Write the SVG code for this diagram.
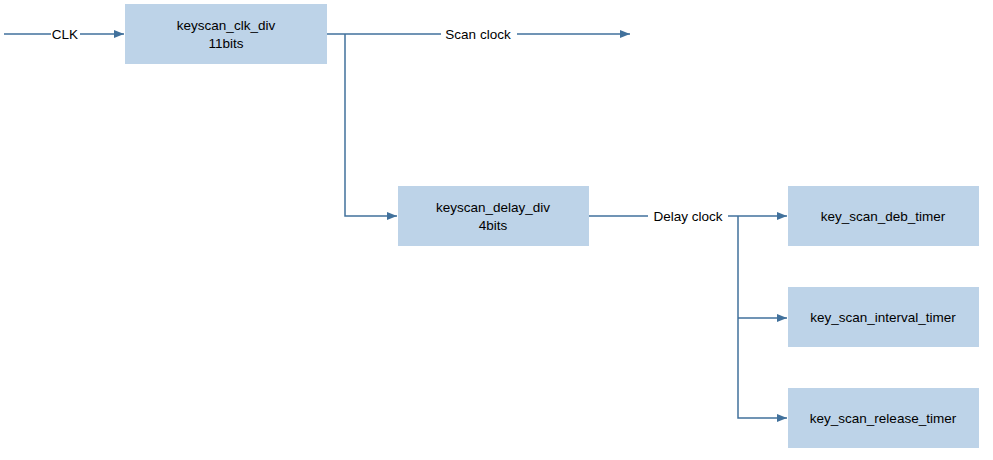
<svg xmlns="http://www.w3.org/2000/svg" width="993" height="460" viewBox="0 0 993 460">
<defs>
<marker id="a" markerWidth="10" markerHeight="8" refX="10" refY="4" orient="auto" markerUnits="userSpaceOnUse"><path d="M0,0 L10,4 L0,8 z" fill="#41719c"/></marker>
<style>
.b{fill:#bdd3e8}
.t{font-family:"Liberation Sans",Arial,sans-serif;font-size:13.5px;fill:#000;text-anchor:middle}
.c{stroke:#41719c;stroke-width:1.5;fill:none}
.lb{fill:#fff}
</style>
</defs>
<rect width="993" height="460" fill="#fff"/>
<g id="connectors">
<path class="c" d="M4,34 H124" marker-end="url(#a)"/>
<path class="c" d="M327,34 H630" marker-end="url(#a)"/>
<path class="c" d="M345,34 V216 H397" marker-end="url(#a)"/>
<path class="c" d="M589,216 H787" marker-end="url(#a)"/>
<path class="c" d="M738,216 V418 H787" marker-end="url(#a)"/>
<path class="c" d="M738,318 H787" marker-end="url(#a)"/>
<rect class="lb" x="51" y="26" width="29" height="16"/>
<text class="t" x="65" y="39">CLK</text>
<rect class="lb" x="441" y="26" width="76" height="16"/>
<text class="t" x="478" y="39">Scan clock</text>
<rect class="lb" x="648" y="208" width="80" height="16"/>
<text class="t" x="688" y="221">Delay clock</text>
</g>
<g id="clk_div"><rect class="b" x="125" y="4" width="202" height="60"/><text class="t" x="226" y="30">keyscan_clk_div</text><text class="t" x="226" y="48">11bits</text></g>
<g id="delay_div"><rect class="b" x="398" y="186" width="191" height="60"/><text class="t" x="493" y="212">keyscan_delay_div</text><text class="t" x="493" y="230">4bits</text></g>
<g id="deb"><rect class="b" x="788" y="186" width="191" height="60"/><text class="t" x="883" y="221">key_scan_deb_timer</text></g>
<g id="interval"><rect class="b" x="788" y="287" width="191" height="60"/><text class="t" x="883" y="322">key_scan_interval_timer</text></g>
<g id="release"><rect class="b" x="788" y="388" width="191" height="60"/><text class="t" x="883" y="423">key_scan_release_timer</text></g>
</svg>
